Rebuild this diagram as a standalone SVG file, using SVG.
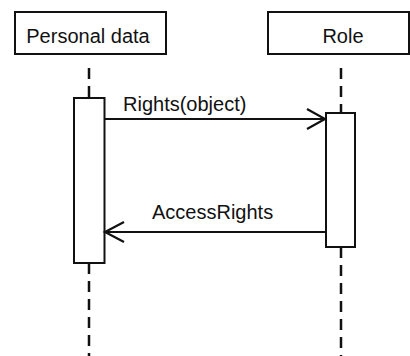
<svg xmlns="http://www.w3.org/2000/svg" width="410" height="356" viewBox="0 0 410 356">
  <defs>
    <style>
      .box { fill: #fff; stroke: #111; stroke-width: 2; }
      .life { stroke: #111; stroke-width: 2.5; stroke-dasharray: 11 7; fill: none; }
      .msg { stroke: #111; stroke-width: 2; fill: none; }
      .head { stroke: #111; stroke-width: 2.2; fill: none; stroke-linecap: butt; }
      text { font-family: "Liberation Sans", Arial, sans-serif; font-size: 20px; fill: #111; }
    </style>
  </defs>
  <rect width="410" height="356" fill="#fff"/>

  <!-- lifelines -->
  <g id="lifelines">
    <line class="life" x1="89" y1="68" x2="89" y2="98"/>
    <line class="life" x1="89" y1="263" x2="89" y2="356"/>
    <line class="life" x1="341" y1="68" x2="341" y2="113"/>
    <line class="life" x1="341" y1="247" x2="341" y2="356"/>
  </g>

  <g id="personal-data">
    <rect class="box" x="15" y="12" width="151" height="42"/>
    <text x="88" y="43" text-anchor="middle">Personal data</text>
    <rect class="box" x="74" y="98" width="30.5" height="165"/>
  </g>

  <g id="role">
    <rect class="box" x="268" y="12" width="141" height="42"/>
    <text x="343" y="43" text-anchor="middle">Role</text>
    <rect class="box" x="326" y="113" width="29" height="134"/>
  </g>

  <g id="connectors">
    <line class="msg" x1="105" y1="119" x2="325" y2="119"/>
    <polyline class="head" points="307,109 325,119 307,129"/>
    <text x="123" y="111">Rights(object)</text>

    <line class="msg" x1="326" y1="232" x2="105" y2="232"/>
    <polyline class="head" points="124,222 105,232 124,242"/>
    <text x="152" y="219">AccessRights</text>
  </g>
</svg>
